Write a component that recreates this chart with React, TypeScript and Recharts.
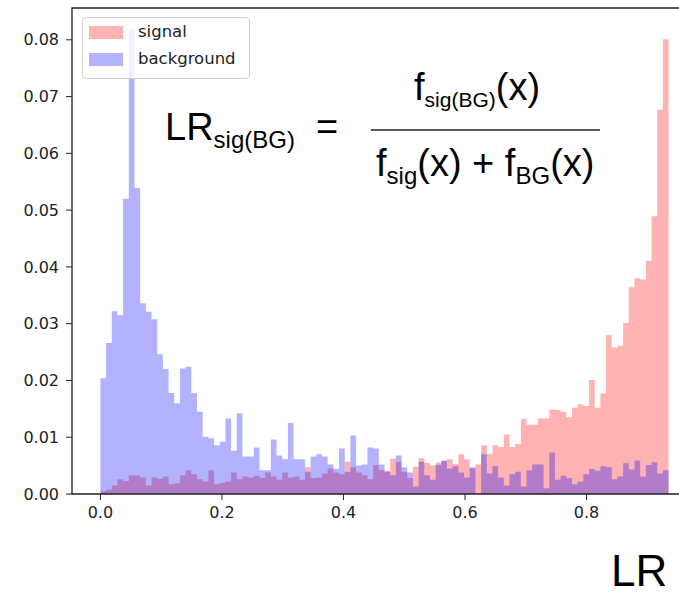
import { ComposedChart, Area, XAxis, YAxis, ReferenceArea } from "recharts";

// histogram: 100 bins from 0 to 0.935
const BIN_WIDTH = 0.00935;

const SIGNAL = [
  0.0005, 0.0008, 0.0015, 0.0026, 0.0023, 0.0033, 0.0033, 0.0029, 0.0015, 0.0029,
  0.0027, 0.0031, 0.0017, 0.0019, 0.0033, 0.0042, 0.0035, 0.0026, 0.0022, 0.0042,
  0.0017, 0.0020, 0.0022, 0.0038, 0.0026, 0.0031, 0.0029, 0.0032, 0.0028, 0.0038,
  0.0031, 0.0025, 0.0038, 0.0029, 0.0031, 0.0025, 0.0047, 0.0028, 0.0029, 0.0036,
  0.0045, 0.0038, 0.0035, 0.0057, 0.0047, 0.0038, 0.0033, 0.0026, 0.0051, 0.0042,
  0.0041, 0.0062, 0.0057, 0.0039, 0.0028, 0.0048, 0.0063, 0.0055, 0.0050, 0.0055,
  0.0058, 0.0061, 0.0053, 0.0070, 0.0061, 0.0045, 0.0052, 0.0086, 0.0070, 0.0086,
  0.0083, 0.0105, 0.0083, 0.0088, 0.0132, 0.0122, 0.0122, 0.0133, 0.0133, 0.0149,
  0.0148, 0.0145, 0.0135, 0.0152, 0.0158, 0.0155, 0.0201, 0.0152, 0.0177, 0.0280,
  0.0258, 0.0261, 0.0301, 0.0364, 0.0380, 0.0378, 0.0411, 0.0489, 0.0677, 0.0801,
];

const BACKGROUND = [
  0.0204, 0.0266, 0.0322, 0.0315, 0.0520, 0.0818, 0.0539, 0.0336, 0.0321, 0.0308,
  0.0246, 0.0220, 0.0178, 0.0160, 0.0221, 0.0224, 0.0178, 0.0145, 0.0101, 0.0098,
  0.0086, 0.0092, 0.0133, 0.0076, 0.0142, 0.0066, 0.0066, 0.0082, 0.0042, 0.0042,
  0.0096, 0.0068, 0.0061, 0.0125, 0.0061, 0.0061, 0.0039, 0.0066, 0.0070, 0.0066,
  0.0052, 0.0044, 0.0080, 0.0039, 0.0103, 0.0050, 0.0052, 0.0082, 0.0080, 0.0052,
  0.0039, 0.0033, 0.0068, 0.0047, 0.0038, 0.0013, 0.0057, 0.0033, 0.0025, 0.0051,
  0.0059, 0.0045, 0.0049, 0.0038, 0.0029, 0.0047, 0.0000, 0.0070, 0.0036, 0.0049,
  0.0029, 0.0015, 0.0035, 0.0039, 0.0013, 0.0042, 0.0052, 0.0052, 0.0010, 0.0073,
  0.0025, 0.0032, 0.0028, 0.0017, 0.0022, 0.0035, 0.0044, 0.0041, 0.0049, 0.0047,
  0.0026, 0.0031, 0.0054, 0.0043, 0.0059, 0.0031, 0.0051, 0.0056, 0.0036, 0.0042,
];

const X_TICKS = [0, 0.2, 0.4, 0.6, 0.8];
const Y_TICKS = [0, 0.01, 0.02, 0.03, 0.04, 0.05, 0.06, 0.07, 0.08];

const X_DOMAIN: [number, number] = [-0.04675, 0.98175];
const Y_DOMAIN: [number, number] = [0, 0.0856];

// step areas need one point per bin edge; the last edge repeats the last bin
const data = [...SIGNAL, SIGNAL[SIGNAL.length - 1]].map((s, i) => ({
  x: i * BIN_WIDTH,
  signal: s,
  background: BACKGROUND[Math.min(i, BACKGROUND.length - 1)],
}));

const tickStyle = { fill: "#222", fontSize: 16, fontFamily: "DejaVu Sans" };
const mathFont = "Liberation Sans, Arial, sans-serif";

export default function App() {
  return (
    <div
      style={{
        position: "absolute",
        left: 0,
        top: 0,
        width: 679,
        height: 597,
        overflow: "hidden",
        background: "#fff",
      }}
    >
      <ComposedChart
        width={700}
        height={597}
        data={data}
        margin={{ top: 8, right: 3, bottom: 0, left: 0 }}
      >
        <XAxis
          dataKey="x"
          type="number"
          domain={X_DOMAIN}
          ticks={X_TICKS}
          allowDataOverflow
          height={103}
          axisLine={false}
          tickLine={{ stroke: "#222" }}
          tickSize={6}
          tickMargin={7}
          tick={tickStyle}
          tickFormatter={(v: number) => v.toFixed(1)}
        />
        <YAxis
          type="number"
          domain={Y_DOMAIN}
          ticks={Y_TICKS}
          allowDataOverflow
          width={72}
          axisLine={false}
          tickLine={{ stroke: "#222" }}
          tickSize={6}
          tickMargin={7}
          tick={tickStyle}
          tickFormatter={(v: number) => v.toFixed(2)}
        />
        <Area
          dataKey="signal"
          type="stepAfter"
          fill="#ff0000"
          fillOpacity={0.3}
          stroke="none"
          isAnimationActive={false}
        />
        <Area
          dataKey="background"
          type="stepAfter"
          fill="#0000ff"
          fillOpacity={0.3}
          stroke="none"
          isAnimationActive={false}
        />
        <ReferenceArea
          x1={X_DOMAIN[0]}
          x2={X_DOMAIN[1]}
          y1={Y_DOMAIN[0]}
          y2={Y_DOMAIN[1]}
          fill="none"
          stroke="#222"
          strokeWidth={1.3}
          ifOverflow="visible"
        />
      </ComposedChart>

      {/* legend */}
      <div
        style={{
          position: "absolute",
          left: 82,
          top: 17,
          width: 166,
          height: 60,
          border: "1px solid #d0d0d0",
          borderRadius: 4,
          background: "rgba(255,255,255,0.8)",
          fontFamily: "DejaVu Sans",
          fontSize: 16.5,
          color: "#222",
        }}
      >
        {[
          { label: "signal", color: "#ffb3b3", top: 8 },
          { label: "background", color: "#b3b3ff", top: 35 },
        ].map((item) => (
          <div key={item.label}>
            <div
              style={{
                position: "absolute",
                left: 6,
                top: item.top,
                width: 34,
                height: 13,
                background: item.color,
              }}
            />
            <div
              style={{
                position: "absolute",
                left: 55,
                top: item.top - 4,
                lineHeight: "20px",
              }}
            >
              {item.label}
            </div>
          </div>
        ))}
      </div>

      {/* formula */}
      <svg
        width={679}
        height={597}
        style={{ position: "absolute", left: 0, top: 0, pointerEvents: "none" }}
      >
        <g fontFamily={mathFont} fill="#000">
          <text x={165} y={140} fontSize={38}>
            LR<tspan fontSize={24} dy={8}>sig(BG)</tspan>
          </text>
          <text x={316} y={140} fontSize={38}>=</text>
          <line x1={371} x2={600} y1={130} y2={130} stroke="#222" strokeWidth={1.5} />
          <text x={414} y={100} fontSize={38}>
            f<tspan fontSize={21} dy={7}>sig(BG)</tspan>
            <tspan dy={-7}>(x)</tspan>
          </text>
          <text x={376} y={176} fontSize={38}>
            f<tspan fontSize={24} dy={8}>sig</tspan>
            <tspan dy={-8}>(x) + f</tspan>
            <tspan fontSize={24} dy={8}>BG</tspan>
            <tspan dy={-8}>(x)</tspan>
          </text>
          <text x={611} y={586} fontSize={44}>LR</text>
        </g>
      </svg>
    </div>
  );
}
